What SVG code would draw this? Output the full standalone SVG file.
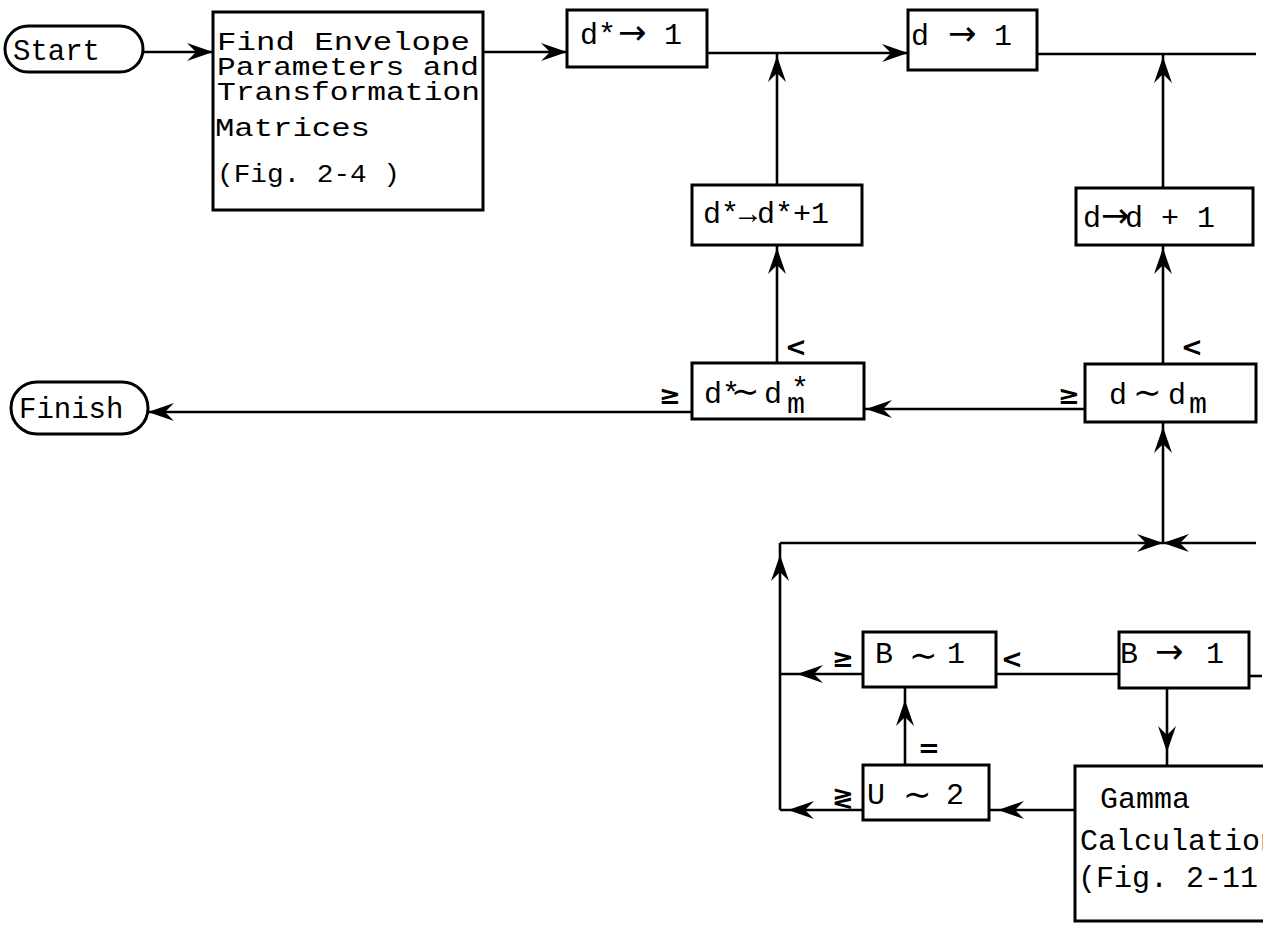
<svg xmlns="http://www.w3.org/2000/svg" width="1271" height="927" viewBox="0 0 1271 927">
<style>
.box{fill:none;stroke:#000;stroke-width:3}
.ln{fill:none;stroke:#000;stroke-width:2.6}
.t{font-family:"Liberation Mono","DejaVu Sans Mono",monospace;font-size:30px;fill:#000}
.big{font-size:26px}
.pill{font-size:29px}
.op{font-family:"DejaVu Sans","Liberation Sans",sans-serif;font-size:34px}
.sym{font-family:"DejaVu Sans","Liberation Sans",sans-serif;font-size:26px;font-weight:bold;fill:#000}
</style>
<defs>
<path id="ah" d="M0,0 L-26,-9 L-17,0 L-26,9 Z" fill="#000"/>
<clipPath id="cut"><rect x="0" y="0" width="1263" height="927"/></clipPath>
</defs>
<rect width="1271" height="927" fill="#fff"/>
<g clip-path="url(#cut)">
<g id="connectors">
<path class="ln" d="M143,52 H213"/>
<use href="#ah" transform="translate(213,52)"/>
<path class="ln" d="M483,52 H567"/>
<use href="#ah" transform="translate(567,52)"/>
<path class="ln" d="M707,53 H908"/>
<use href="#ah" transform="translate(908,53)"/>
<path class="ln" d="M1037,54 H1256"/>
<path class="ln" d="M777,185 V53"/>
<use href="#ah" transform="translate(777,56) rotate(-90)"/>
<path class="ln" d="M1163,188 V54"/>
<use href="#ah" transform="translate(1163,57) rotate(-90)"/>
<path class="ln" d="M777,363 V245"/>
<use href="#ah" transform="translate(777,248) rotate(-90)"/>
<path class="ln" d="M1163,364 V245"/>
<use href="#ah" transform="translate(1163,248) rotate(-90)"/>
<path class="ln" d="M1085,409 H864"/>
<use href="#ah" transform="translate(866,409) rotate(180)"/>
<path class="ln" d="M692,412 H148"/>
<use href="#ah" transform="translate(148,412) rotate(180)"/>
<path class="ln" d="M1163,543 V422"/>
<use href="#ah" transform="translate(1163,427) rotate(-90)"/>
<path class="ln" d="M780,543 H1256"/>
<use href="#ah" transform="translate(1163,543)"/>
<use href="#ah" transform="translate(1163,543) rotate(180)"/>
<path class="ln" d="M780,810 V543"/>
<use href="#ah" transform="translate(780,555) rotate(-90)"/>
<path class="ln" d="M863,674 H780"/>
<use href="#ah" transform="translate(797,674) rotate(180)"/>
<path class="ln" d="M863,810 H780"/>
<use href="#ah" transform="translate(788,810) rotate(180)"/>
<path class="ln" d="M1119,674 H996"/>
<path class="ln" d="M1262,676 H1249"/>
<path class="ln" d="M1167,688 V766"/>
<use href="#ah" transform="translate(1167,752) rotate(90)"/>
<path class="ln" d="M905,765 V687"/>
<use href="#ah" transform="translate(905,700) rotate(-90)"/>
<path class="ln" d="M1075,810 H989"/>
<use href="#ah" transform="translate(998,810) rotate(180)"/>
</g>
<g id="start">
<rect class="box" x="5" y="26" width="138" height="46" rx="23"/>
<text class="t pill" x="13" y="60">Start</text>
</g>
<g id="find">
<rect class="box" x="213" y="12" width="270" height="198"/>
<text class="t big" x="217" y="50" textLength="253" lengthAdjust="spacingAndGlyphs">Find Envelope</text>
<text class="t big" x="217" y="75" textLength="262" lengthAdjust="spacingAndGlyphs">Parameters and</text>
<text class="t big" x="217" y="100" textLength="263" lengthAdjust="spacingAndGlyphs">Transformation</text>
<text class="t big" x="215" y="136" textLength="155" lengthAdjust="spacingAndGlyphs">Matrices</text>
<text class="t big" x="217" y="182" textLength="183" lengthAdjust="spacingAndGlyphs">(Fig. 2-4 )</text>
</g>
<g id="dstar-init">
<rect class="box" x="567" y="10" width="140" height="57"/>
<text class="t" y="44"><tspan x="580">d*</tspan><tspan class="op" x="618">→</tspan><tspan x="664">1</tspan></text>
</g>
<g id="d-init">
<rect class="box" x="908" y="10" width="129" height="60"/>
<text class="t" y="45"><tspan x="911">d</tspan><tspan class="op" x="948">→</tspan><tspan x="994">1</tspan></text>
</g>
<g id="dstar-inc">
<rect class="box" x="692" y="185" width="170" height="60"/>
<text class="t" x="703" y="223" font-size="28">d*→d*+1</text>
</g>
<g id="d-inc">
<rect class="box" x="1076" y="188" width="177" height="57"/>
<text class="t" y="227"><tspan x="1083">d</tspan><tspan class="op" x="1101" font-size="26">→</tspan><tspan x="1125">d + 1</tspan></text>
</g>
<g id="dstar-test">
<rect class="box" x="692" y="363" width="172" height="56"/>
<text class="t" y="403"><tspan x="704">d*</tspan><tspan class="op" x="731">∼</tspan><tspan x="764">d</tspan><tspan x="787" dy="10">m</tspan></text>
<text class="t" x="791" y="398" font-size="24">*</text>
<text class="sym" x="670" y="404" text-anchor="middle">≥</text>
<text class="sym" x="796" y="356" text-anchor="middle">&lt;</text>
</g>
<g id="d-test">
<rect class="box" x="1085" y="364" width="171" height="58"/>
<text class="t" y="404"><tspan x="1109">d</tspan><tspan class="op" x="1133">∼</tspan><tspan x="1168">d</tspan><tspan x="1189" dy="9">m</tspan></text>
<text class="sym" x="1069" y="404" text-anchor="middle">≥</text>
<text class="sym" x="1192" y="356" text-anchor="middle">&lt;</text>
</g>
<g id="finish">
<rect class="box" x="11" y="382" width="137" height="52" rx="26"/>
<text class="t pill" x="19" y="418">Finish</text>
</g>
<g id="b-test">
<rect class="box" x="863" y="632" width="133" height="55"/>
<text class="t" y="663"><tspan x="875">B</tspan><tspan class="op" x="909" dy="4">∼</tspan><tspan x="947" dy="-4">1</tspan></text>
<text class="sym" x="843" y="667" text-anchor="middle">≥</text>
<text class="sym" x="1012" y="668" text-anchor="middle">&lt;</text>
</g>
<g id="b-init">
<rect class="box" x="1119" y="632" width="130" height="56"/>
<text class="t" y="663"><tspan x="1120">B</tspan><tspan class="op" x="1155" font-size="40">→</tspan><tspan x="1206">1</tspan></text>
</g>
<g id="u-test">
<rect class="box" x="863" y="765" width="126" height="55"/>
<text class="t" y="804"><tspan x="867">U</tspan><tspan class="op" x="903" dy="2">∼</tspan><tspan x="946" dy="-2">2</tspan></text>
<text class="sym" x="843" y="806" text-anchor="middle">≷</text>
<text class="sym" x="929" y="757" text-anchor="middle">=</text>
</g>
<g id="gamma">
<path class="box" d="M1266,766 H1075 V921 H1266"/>
<text class="t" x="1100" y="808">Gamma</text>
<text class="t" x="1080" y="850">Calculation</text>
<text class="t" x="1078" y="887">(Fig. 2-11)</text>
</g>
</g>
</svg>
